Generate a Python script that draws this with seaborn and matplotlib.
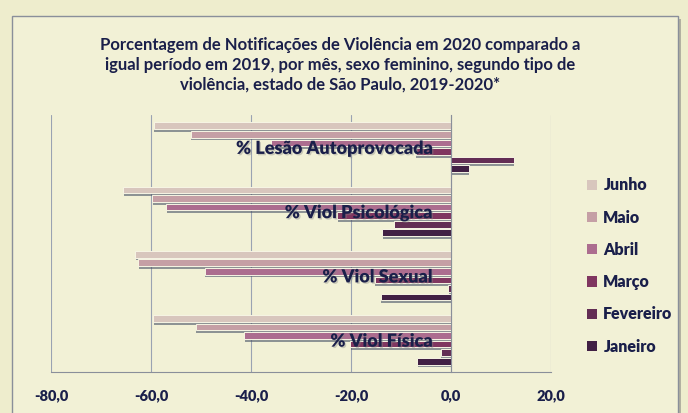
import matplotlib
matplotlib.use("Agg")
import matplotlib.pyplot as plt
import matplotlib.patheffects as pe
from matplotlib.patches import Rectangle
import seaborn as sns
import pandas as pd

# ---- Data ----
tipos = ["% Lesão Autoprovocada", "% Viol Psicológica", "% Viol Sexual", "% Viol Física"]
meses = ["Junho", "Maio", "Abril", "Março", "Fevereiro", "Janeiro"]
# one list per month, same order as tipos
junho = [-59.5, -65.6, -63.2, -59.6]
maio = [-52.1, -59.8, -62.6, -51.1]
abril = [-36.0, -57.0, -49.3, -41.4]
marco = [-7.1, -22.8, -15.3, -20.2]
fevereiro = [12.5, -11.4, -0.6, -2.1]
janeiro = [3.5, -13.8, -14.1, -6.8]
xticks = [-80, -60, -40, -20, 0, 20]
xtick_labels = ["-80,0", "-60,0", "-40,0", "-20,0", "0,0", "20,0"]

cores = ["#dcc4b8", "#cc98a0", "#b66290", "#8c2a62", "#6c2458", "#461a4a"]
BG = "#f2f1d6"
TXT = "#1a1f4a"

valores = [junho, maio, abril, marco, fevereiro, janeiro]
rows = []
for mes, vals in zip(meses, valores):
    for tipo, v in zip(tipos, vals):
        rows.append({"tipo": tipo, "mes": mes, "valor": v})
df = pd.DataFrame(rows)

sns.set_style("white")
plt.rcParams["font.family"] = ["Lato", "DejaVu Sans"]

fig = plt.figure(figsize=(6.88, 4.13), dpi=100)
fig.patch.set_facecolor("#eeedcd")

# chart frame
frame = Rectangle((12 / 688, -0.05), 666 / 688, 1 - 16 / 413 + 0.05, transform=fig.transFigure,
                  facecolor=BG, edgecolor="#8a8f9a", lw=1.0, zorder=-5,
                  path_effects=[pe.SimplePatchShadow(offset=(2, -2), shadow_rgbFace="#777", alpha=0.5), pe.Normal()])
fig.patches.append(frame)

ax = fig.add_axes([51 / 688, 41 / 413, 500 / 688, 257 / 413])
ax.set_facecolor("none")
ax.set_zorder(2)

sns.barplot(data=df, y="tipo", x="valor", hue="mes", order=tipos, hue_order=meses,
            palette=cores, orient="h", width=0.8, gap=0.22, ax=ax,
            edgecolor="#f7f5e4", linewidth=0.7, zorder=3)

for p in ax.patches:
    p.set_path_effects([pe.SimplePatchShadow(offset=(0.6, -2), shadow_rgbFace="#4a5468", alpha=0.6),
                        pe.Normal()])

ax.set_xlim(-80, 20)
ax.set_ylim(3.5, -0.5)
ax.set_xticks(xticks)
ax.set_xticklabels(xtick_labels, fontsize=10.5, fontweight="heavy", color=TXT)
ax.tick_params(axis="x", length=5, direction="inout", color="#8a8f9a", pad=10)
for x in xticks:
    ax.axvline(x, color="#9aa3b2", lw=0.8, zorder=1)

# y axis at zero with group boundary ticks
ax.set_yticks([-0.5, 0.5, 1.5, 2.5, 3.5])
ax.set_yticklabels([])
ax.spines["left"].set_position(("data", 0))
ax.spines["left"].set_color("#8a8f9a")
ax.spines["left"].set_zorder(4)
ax.tick_params(axis="y", length=4, direction="out", color="#8a8f9a")
ax.spines["bottom"].set_color("#8a8f9a")
ax.spines["top"].set_visible(False)
ax.spines["right"].set_visible(False)
ax.set_xlabel("")
ax.set_ylabel("")

for i, tipo in enumerate(tipos):
    ax.text(-3.7, i + 0.02, tipo, ha="right", va="center", fontsize=13, fontweight="heavy",
            color=TXT, zorder=5,
            path_effects=[pe.withSimplePatchShadow(offset=(1, -1), shadow_rgbFace="#888", alpha=0.4)])

fig.text(340 / 688, 1 - 65 / 413,
         "Porcentagem de Notificações de Violência em 2020 comparado a\n"
         "igual período em 2019, por mês, sexo feminino, segundo tipo de\n"
         "violência, estado de São Paulo, 2019-2020*",
         ha="center", va="center", fontsize=12, fontweight="bold", color=TXT, linespacing=1.3)

leg = ax.legend(loc="center left", bbox_to_anchor=(573 / 688, 1 - 266 / 413),
                bbox_transform=fig.transFigure, frameon=False,
                prop={"size": 11.5, "weight": "heavy"}, labelspacing=1.02,
                handlelength=0.6, handleheight=0.6, handletextpad=0.4)
for t in leg.get_texts():
    t.set_color(TXT)
for h in leg.legend_handles:
    h.set_path_effects([])
    h.set_edgecolor("none")

fig.savefig("out.png", dpi=100, facecolor=fig.get_facecolor())
